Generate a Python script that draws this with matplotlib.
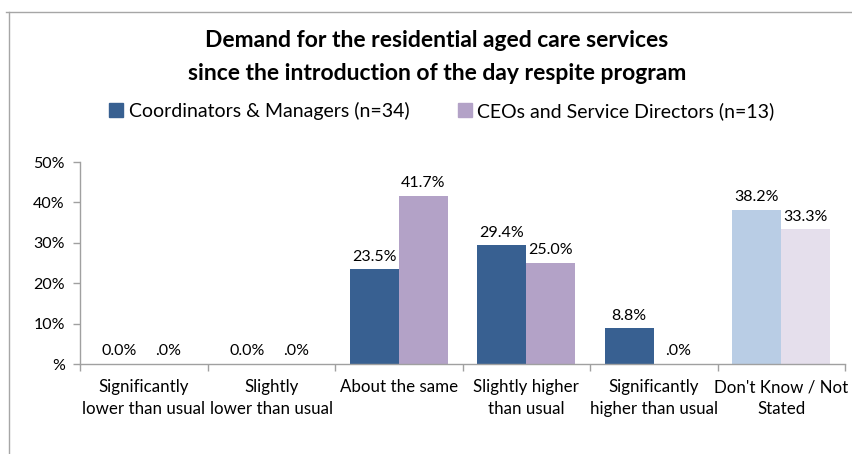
import matplotlib
matplotlib.use("Agg")
import matplotlib.pyplot as plt
from matplotlib.patches import Patch
from matplotlib.lines import Line2D
import numpy as np

plt.rcParams['font.family'] = ['Lato', 'DejaVu Sans']

categories = [
    "Significantly\nlower than usual",
    "Slightly\nlower than usual",
    "About the same",
    "Slightly higher\nthan usual",
    "Significantly\nhigher than usual",
    "Don't Know / Not\nStated",
]
series_names = ["Coordinators & Managers (n=34)", "CEOs and Service Directors (n=13)"]
coordinators = [0.0, 0.0, 0.235, 0.294, 0.088, 0.382]
ceos = [0.0, 0.0, 0.417, 0.250, 0.0, 0.333]
y_ticks = [0.0, 0.1, 0.2, 0.3, 0.4, 0.5]

blue = "#386091"
purple = "#B3A2C7"
blue_light = "#B9CDE5"
purple_light = "#E5DFEC"

W, H = 852, 454
fig = plt.figure(figsize=(W / 100, H / 100), dpi=100)

# chart frame
fig.add_artist(Line2D([6 / W, 1], [1 - 12 / H, 1 - 12 / H], color="#A6A6A6", lw=1.0))
fig.add_artist(Line2D([9 / W, 9 / W], [0, 1 - 12 / H], color="#A6A6A6", lw=1.0))

ax = fig.add_axes([80 / W, 1 - 364 / H, (845 - 80) / W, (364 - 162) / H])

x = np.arange(len(categories))
bw = 0.384
c1 = [blue] * (len(categories) - 1) + [blue_light]
c2 = [purple] * (len(categories) - 1) + [purple_light]
b1 = ax.bar(x - bw / 2, coordinators, bw, color=c1, zorder=2)
b2 = ax.bar(x + bw / 2, ceos, bw, color=c2, zorder=2)


def fmt_blue(v):
    return f"{v * 100:.1f}%"


def fmt_purple(v):
    s = f"{v * 100:.1f}%"
    return s[1:] if s.startswith("0") else s


fs_val = 11.5
fs_cat = 12.2
for bars, vals, f in ((b1, coordinators, fmt_blue), (b2, ceos, fmt_purple)):
    for r, v in zip(bars, vals):
        ax.annotate(f(v), (r.get_x() + r.get_width() / 2, v), xytext=(0, 4),
                    textcoords="offset points", ha="center", va="bottom",
                    fontsize=fs_val, color="#000000")

ax.set_xlim(-0.5, len(categories) - 0.5)
ax.set_ylim(0, 0.5)
ax.set_yticks(y_ticks)
ax.set_yticklabels([("%d%%" % round(t * 100)) if t > 0 else "%" for t in y_ticks])
ax.set_xticks(x)
ax.set_xticklabels(categories, fontsize=fs_cat, linespacing=1.45)
ax.set_xticks(np.arange(-0.5, len(categories)), minor=True)
ax.tick_params(axis="x", which="major", length=0, pad=11)
ax.tick_params(axis="x", which="minor", length=5, color="#A0A0A0", width=1)
ax.tick_params(axis="y", length=5, color="#A0A0A0", width=1, labelsize=fs_val, pad=6)

for s in ("top", "right"):
    ax.spines[s].set_visible(False)
for s in ("left", "bottom"):
    ax.spines[s].set_color("#A0A0A0")
    ax.spines[s].set_linewidth(1.0)

fig.text(437 / W, 1 - 47 / H, "Demand for the residential aged care services",
         ha="center", va="baseline", fontsize=16.5, fontweight="bold")
fig.text(437 / W, 1 - 80 / H, "since the introduction of the day respite program",
         ha="center", va="baseline", fontsize=16.5, fontweight="bold")

handles = [Patch(color=blue), Patch(color=purple)]
fig.legend(handles, series_names, loc="center", bbox_to_anchor=(442 / W, 1 - 111 / H),
           ncol=2, frameon=False, fontsize=14, handlelength=0.7, handleheight=0.7,
           handletextpad=0.3, columnspacing=2.5, borderpad=0, borderaxespad=0)

fig.savefig("out.png", dpi=100)
